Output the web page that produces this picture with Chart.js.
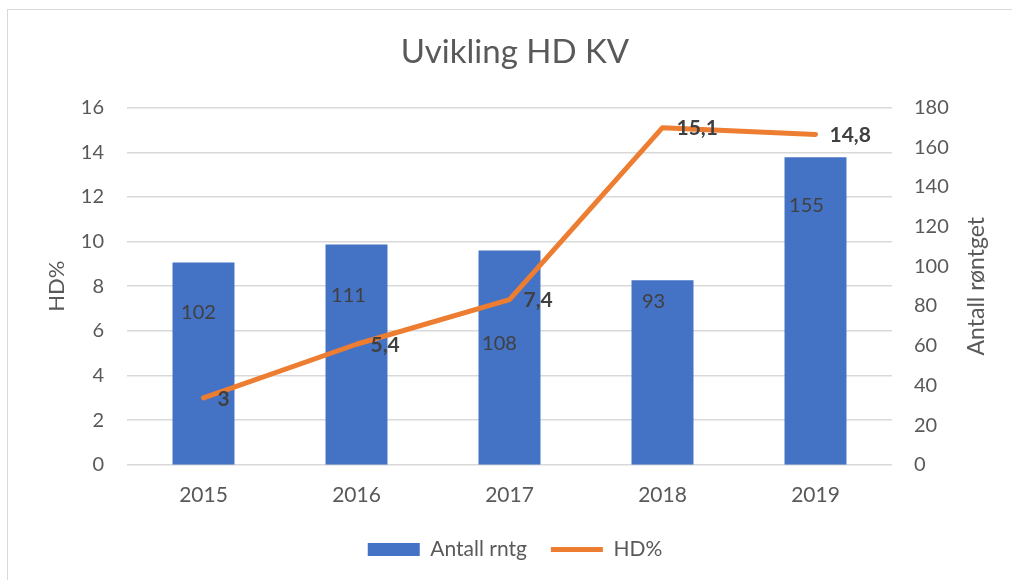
<!DOCTYPE html>
<html lang="no">
<head>
    <meta charset="UTF-8">
    <title>Uvikling HD KV</title>
    <style>
        body {
            margin: 0;
            background: #fff;
        }

        /* Excel chart frame, cut off by the screenshot on the right and bottom */
        #frame {
            position: absolute;
            left: 7px;
            top: 9px;
            width: 1100px;
            height: 700px;
            border-top: 1px solid #d9d9d9;
            border-left: 1px solid #d9d9d9;
        }

        #chart {
            position: absolute;
            left: 0;
            top: 0;
        }
    </style>
</head>
<body>
    <div id="frame"></div>
    <canvas id="chart" width="1012" height="580"></canvas>

    <script src="https://cdn.jsdelivr.net/npm/chart.js"></script>
    <script>
        const years = ['2015', '2016', '2017', '2018', '2019'];
        const antallRntg = [102, 111, 108, 93, 155];
        const hdPercent = [3, 5.4, 7.4, 15.1, 14.8];

        // bar labels were dragged around by hand in the original, px from bar centre / bar top
        const barLabelShift = [[-5, 50], [-8, 51], [-10, 93], [-9, 21], [-9, 48]];

        const textGrey = '#595959';
        const labelGrey = '#404040';
        const tickFont = { family: 'Lato', size: 20 };
        const textFont = { family: 'Lato', size: 22 };

        const valueLabels = {
            id: 'valueLabels',
            afterDatasetsDraw(chart) {
                const ctx = chart.ctx;
                ctx.save();
                ctx.textBaseline = 'middle';

                // bar values
                ctx.font = '20px Lato';
                ctx.fillStyle = labelGrey;
                ctx.textAlign = 'center';
                chart.getDatasetMeta(0).data.forEach((bar, i) => {
                    const [dx, dy] = barLabelShift[i];
                    ctx.fillText(String(antallRntg[i]), bar.x + dx, bar.y + dy);
                });

                // line values, to the right of each point, with decimal comma
                ctx.font = 'bold 21px Lato';
                ctx.textAlign = 'left';
                chart.getDatasetMeta(1).data.forEach((pt, i) => {
                    ctx.fillText(String(hdPercent[i]).replace('.', ','), pt.x + 14, pt.y + 1);
                });

                // right axis title reads bottom to top like Excel does it
                const area = chart.chartArea;
                ctx.font = '23px Lato';
                ctx.fillStyle = textGrey;
                ctx.textAlign = 'center';
                ctx.translate(chart.scales.y1.right - 33, (area.top + area.bottom) / 2);
                ctx.rotate(-Math.PI / 2);
                ctx.fillText('Antall røntget', 0, 0);
                ctx.restore();
            }
        };

        new Chart(document.getElementById('chart'), {
            data: {
                labels: years,
                datasets: [
                    {
                        type: 'bar',
                        label: 'Antall rntg',
                        data: antallRntg,
                        yAxisID: 'y1',
                        backgroundColor: '#4472c4',
                        categoryPercentage: 1,
                        barPercentage: 0.405,
                        pointStyle: 'rect',
                        order: 2
                    },
                    {
                        type: 'line',
                        label: 'HD%',
                        data: hdPercent,
                        yAxisID: 'y',
                        borderColor: '#ed7d31',
                        backgroundColor: '#ed7d31',
                        borderWidth: 5,
                        borderCapStyle: 'round',
                        borderJoinStyle: 'round',
                        pointRadius: 0,
                        pointStyle: 'line',
                        tension: 0,
                        order: 1
                    }
                ]
            },
            options: {
                responsive: false,
                animation: false,
                layout: { padding: { left: 20, right: 2, top: 0, bottom: 10 } },
                plugins: {
                    tooltip: { enabled: false },
                    title: {
                        display: true,
                        text: 'Uvikling HD KV',
                        color: textGrey,
                        font: { family: 'Lato', size: 33, weight: 'normal' },
                        padding: { top: 33, bottom: 35 }
                    },
                    legend: {
                        position: 'bottom',
                        labels: {
                            usePointStyle: true,
                            pointStyleWidth: 52,
                            boxHeight: 13,
                            padding: 24,
                            color: textGrey,
                            font: { family: 'Lato', size: 21 },
                            sort: (a, b) => a.datasetIndex - b.datasetIndex
                        }
                    }
                },
                scales: {
                    x: {
                        grid: { display: false, drawTicks: false },
                        border: { display: false },
                        ticks: { color: textGrey, font: { family: 'Lato', size: 21 }, padding: 18 },
                        afterFit(scale) { scale.height -= 11; }
                    },
                    y: {
                        position: 'left',
                        min: 0,
                        max: 16,
                        ticks: { stepSize: 2, padding: 23, color: textGrey, font: tickFont },
                        grid: { color: '#d9d9d9', lineWidth: 1.5, drawTicks: false },
                        border: { display: false },
                        title: {
                            display: true,
                            text: 'HD%',
                            color: textGrey,
                            font: textFont,
                            padding: { top: 24, bottom: 0 }
                        },
                        afterFit(scale) { scale.width = 107; }
                    },
                    y1: {
                        position: 'right',
                        min: 0,
                        max: 180,
                        ticks: { stepSize: 20, padding: 22, color: textGrey, font: tickFont },
                        grid: { display: false, drawTicks: false },
                        border: { display: false },
                        afterFit(scale) { scale.width = 118; }
                    }
                }
            },
            plugins: [valueLabels]
        });
    </script>
</body>
</html>
